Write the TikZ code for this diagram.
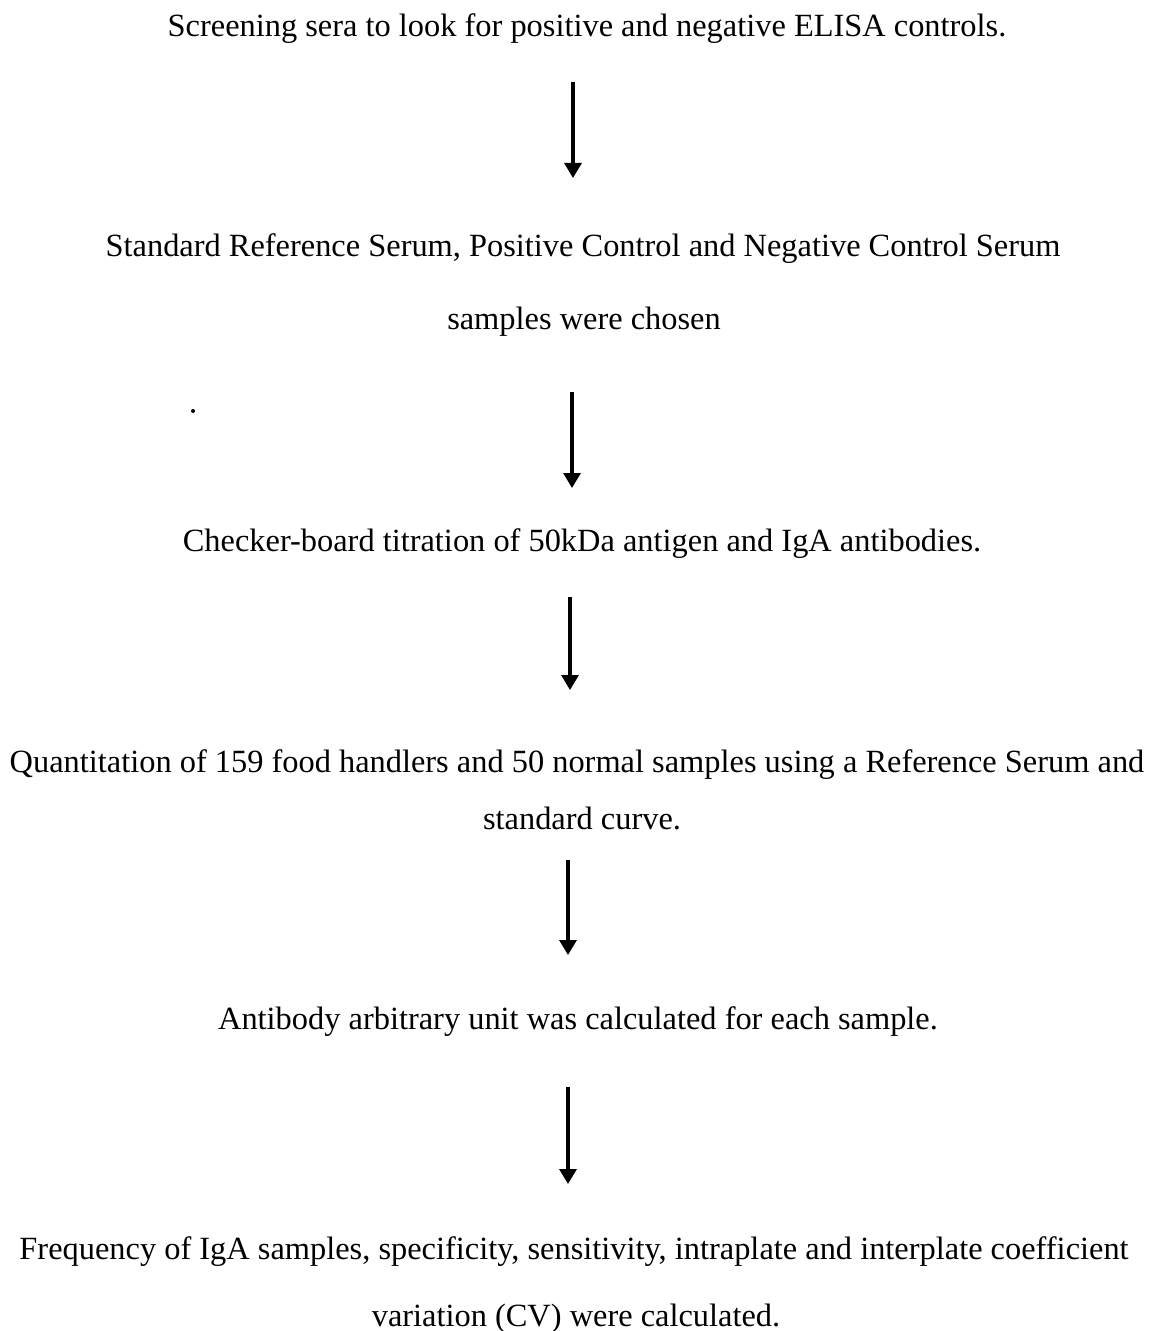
\documentclass[tikz,border=0pt]{standalone}
\usepackage{fontspec}
\setmainfont{Liberation Serif}
\usetikzlibrary{arrows.meta}
\begin{document}
\begin{tikzpicture}[x=0.5pt,y=-0.5pt,
  txt/.style={font=\fontsize{16.2}{19}\selectfont, inner sep=0pt, anchor=center},
  flow/.style={line width=1.6pt, -{Triangle[width=8.5pt,length=7.5pt]}}]
\useasboundingbox (0,0) rectangle (1156,1331);
\node[txt] (t1) at (587,29) {Screening sera to look for positive and negative ELISA controls.};
\coordinate (a1s) at (573,82); \coordinate (a1e) at (573,178);
\draw[flow] (a1s) -- (a1e);
\node[txt] (t2a) at (583,249) {Standard Reference Serum, Positive Control and Negative Control Serum};
\node[txt] (t2b) at (584,322) {samples were chosen};
\coordinate (a2s) at (572,392); \coordinate (a2e) at (572,488);
\draw[flow] (a2s) -- (a2e);
\node[txt] (t3) at (582,544) {Checker-board titration of 50kDa antigen and IgA antibodies.};
\coordinate (a3s) at (570,597); \coordinate (a3e) at (570,690);
\draw[flow] (a3s) -- (a3e);
\node[txt] (t4a) at (577,765) {Quantitation of 159 food handlers and 50 normal samples using a Reference Serum and};
\node[txt] (t4b) at (582,818) {standard curve.};
\coordinate (a4s) at (568,860); \coordinate (a4e) at (568,955);
\draw[flow] (a4s) -- (a4e);
\node[txt] (t5) at (578,1022) {Antibody arbitrary unit was calculated for each sample.};
\coordinate (a5s) at (568,1087); \coordinate (a5e) at (568,1184);
\draw[flow] (a5s) -- (a5e);
\node[txt] (t6a) at (574,1252) {Frequency of IgA samples, specificity, sensitivity, intraplate and interplate coefficient};
\node[txt] (t6b) at (576,1319) {variation (CV) were calculated.};
\fill (193,411) circle (1pt);
\end{tikzpicture}
\end{document}
